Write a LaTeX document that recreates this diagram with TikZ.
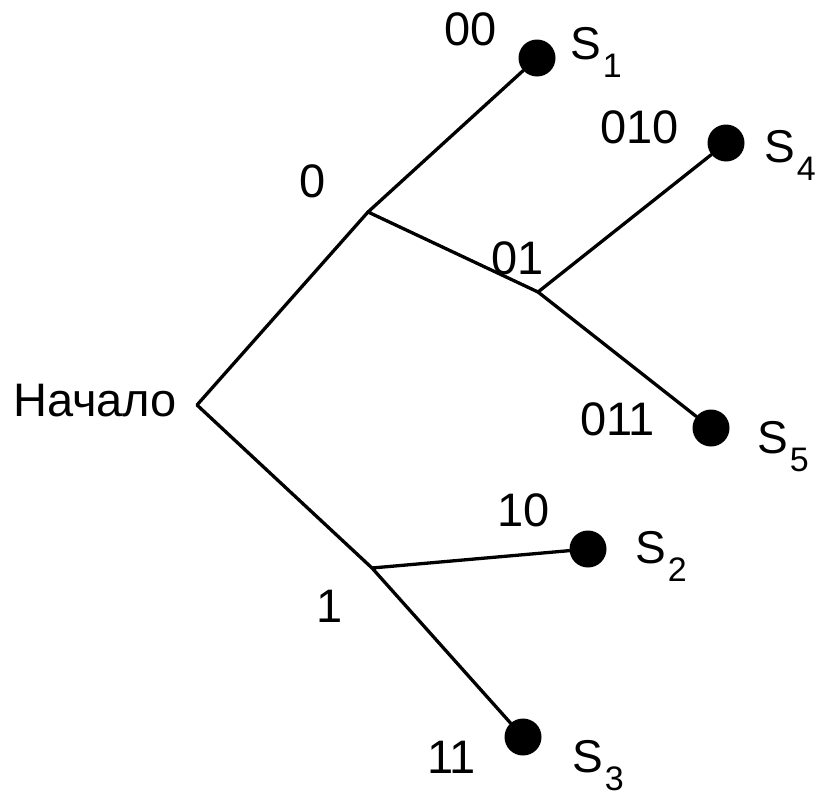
\documentclass[tikz,border=0pt]{standalone}
\usepackage{fontspec}
\newfontfamily\lblfont{Liberation Sans}
\newcommand{\lblsz}{\lblfont\fontsize{47}{47}\selectfont}
\newcommand{\snsz}{\lblfont\fontsize{46}{46}\selectfont}
\newcommand{\subsz}{\lblfont\fontsize{34}{34}\selectfont}
\newcommand{\Sname}[1]{S\hspace{2pt}\raisebox{-18pt}{\subsz #1}}
\begin{document}
\begin{tikzpicture}[x=1pt,y=-1pt,
  edge/.style={line width=3.3pt,line cap=round,line join=round},
  leaf/.style={circle,fill=black,minimum size=37pt,inner sep=0pt},
  lbl/.style={anchor=base west,inner sep=0pt,font=\lblsz},
  slbl/.style={anchor=base west,inner sep=0pt,font=\snsz}]
\useasboundingbox (0,0) rectangle (816,795);
% tree nodes
\coordinate (root) at (197,405);
\coordinate (n0) at (368,212);
\coordinate (n01) at (538,292);
\coordinate (n1) at (372,568);
\node[leaf] (s1) at (537,58) {};
\node[leaf] (s4) at (726,143) {};
\node[leaf] (s5) at (711,428) {};
\node[leaf] (s2) at (588,549) {};
\node[leaf] (s3) at (523,737) {};
% edges
\draw[edge] (n0) -- (root) -- (n1);
\draw[edge] (s1) -- (n0) -- (n01);
\draw[edge] (s4) -- (n01) -- (s5);
\draw[edge] (s2) -- (n1) -- (s3);
% labels
\node[lbl] (lroot) at (13,416) {Начало};
\node[lbl] (l0) at (299,197) {0};
\node[lbl] (l00) at (444,45) {00};
\node[lbl] (l01) at (491,274) {01};
\node[lbl] (l010) at (600,143) {010};
\node[lbl] (l011) at (580,435) {011};
\node[lbl] (l1) at (316,622) {1};
\node[lbl] (l10) at (497,526) {10};
\node[lbl] (l11) at (427,773) {11};
\node[slbl] (ls1) at (570,59) {\Sname{1}};
\node[slbl] (ls4) at (764,162) {\Sname{4}};
\node[slbl] (ls5) at (757,453) {\Sname{5}};
\node[slbl] (ls2) at (635,563) {\Sname{2}};
\node[slbl] (ls3) at (572,772) {\Sname{3}};
\end{tikzpicture}
\end{document}
